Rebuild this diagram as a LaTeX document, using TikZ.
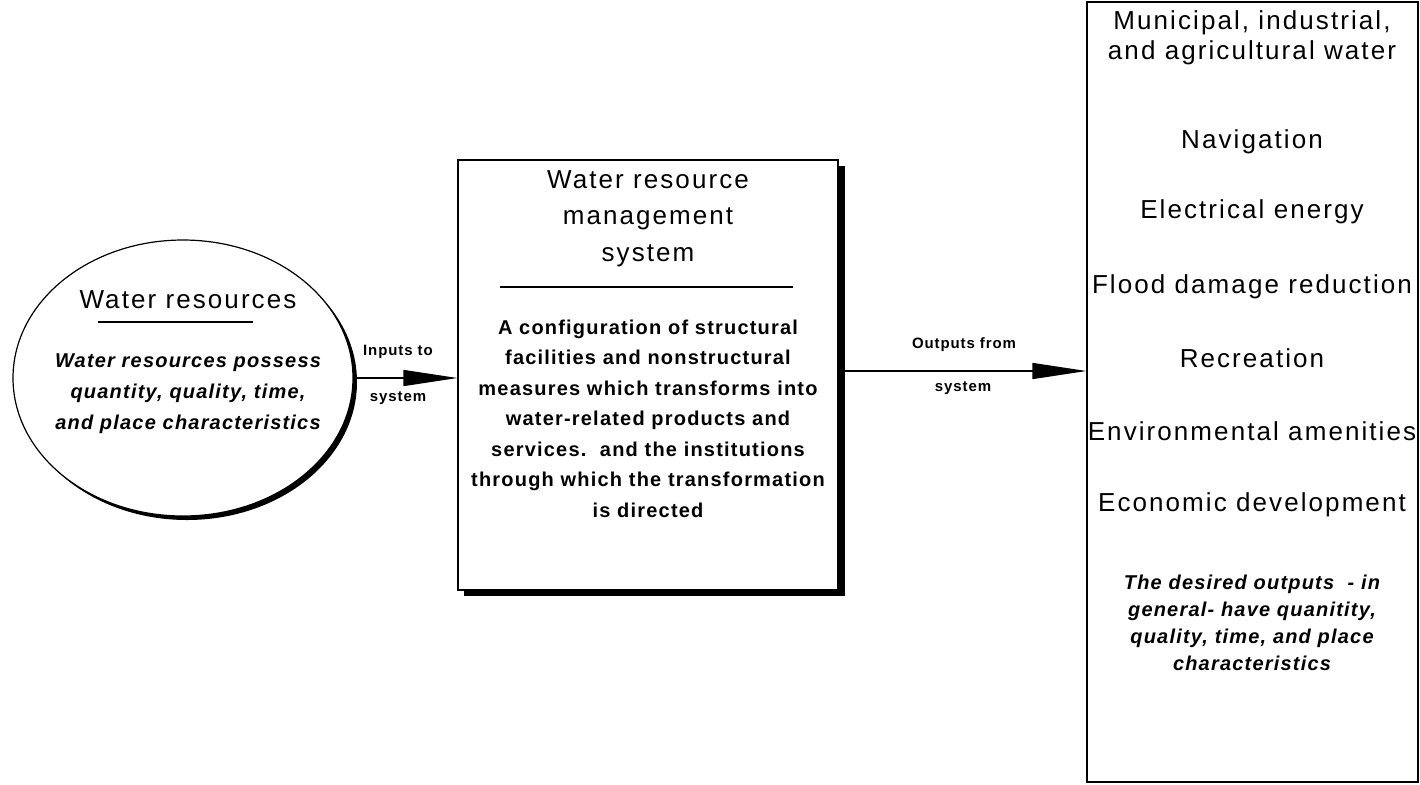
\documentclass[tikz,border=0pt]{standalone}
\usepackage{fontspec}
\setmainfont{Liberation Sans}
\newfontfamily\titlef{Liberation Sans}[LetterSpace=8]
\newfontfamily\bodyf{Liberation Sans}[LetterSpace=6]
\usetikzlibrary{shapes.geometric,arrows.meta}
\begin{document}
\begin{tikzpicture}[x=0.5pt,y=-0.5pt,
  titletext/.style={font={\titlef\fontsize{13}{18.25}\selectfont},align=center,inner sep=0pt},
  bodytext/.style={font={\bodyf\bfseries\fontsize{10}{15.25}\selectfont},align=center,inner sep=0pt},
  itext/.style={font={\bodyf\bfseries\itshape\fontsize{10}{15.5}\selectfont},align=center,inner sep=0pt},
  smalltext/.style={font={\bodyf\bfseries\fontsize{7.5}{9}\selectfont},inner sep=0pt},
  flow/.style={line width=0.7pt,-{Triangle[length=27pt,width=8pt]}},
  rule/.style={line width=0.6pt}]
\useasboundingbox (0,0) rectangle (1420,784);
% ellipse with shadow
\fill[black] (187,382) ellipse [x radius=170, y radius=138];
\node[ellipse,draw,fill=white,line width=0.6pt,minimum width=170pt,minimum height=138pt,inner sep=0pt] (wr) at (183,378) {};
\node[titletext] (wrt) at (188,300) {Water resources};
\draw[rule] (98,322) -- (253,322);
\node[itext] (wrd) at (188,394) {Water resources possess\\quantity, quality, time,\\and place characteristics};
% middle box with shadow
\fill[black] (464,166) rectangle (845,596);
\node[draw,fill=white,line width=0.6pt,minimum width=190pt,minimum height=215pt,inner sep=0pt] (ms) at (648,375) {};
\node[titletext] (mst) at (648,218.5) {Water resource\\management\\system};
\draw[rule] (500,287) -- (793,287);
\node[bodytext] (msd) at (648,418.5) {A configuration of structural\\facilities and nonstructural\\measures which transforms into\\water-related products and\\services.\ \ and the institutions\\through which the transformation\\is directed};
% right box
\node[draw,line width=0.6pt,minimum width=165.5pt,minimum height=390pt,inner sep=0pt] (out) at (1252.5,392) {};
\node[titletext,font={\titlef\fontsize{13}{15}\selectfont}] (o1) at (1252,38) {Municipal, industrial,\\and agricultural water};
\node[titletext] (o2) at (1252,142) {Navigation};
\node[titletext] (o3) at (1252,212) {Electrical energy};
\node[titletext] (o4) at (1252,287) {Flood damage reduction};
\node[titletext] (o5) at (1252,358) {Recreation};
\node[titletext] (o6) at (1252,431) {Environmental amenities};
\node[titletext] (o7) at (1252,505) {Economic development};
\node[itext,font={\bodyf\bfseries\itshape\fontsize{10}{13.5}\selectfont}] (o8) at (1252,623) {The desired outputs\ \ - in\\general- have quanitity,\\quality, time, and place\\characteristics};
% connectors
\draw[flow] (wr.east) -- (wr.east -| ms.west);
\draw[flow] ([yshift=2pt]ms.east) -- ([yshift=2pt]ms.east -| out.west);
\node[smalltext] (l1) at (398,352) {Inputs to};
\node[smalltext] (l2) at (398,398) {system};
\node[smalltext] (l3) at (964,345) {Outputs from};
\node[smalltext] (l4) at (963,388) {system};
\end{tikzpicture}
\end{document}
